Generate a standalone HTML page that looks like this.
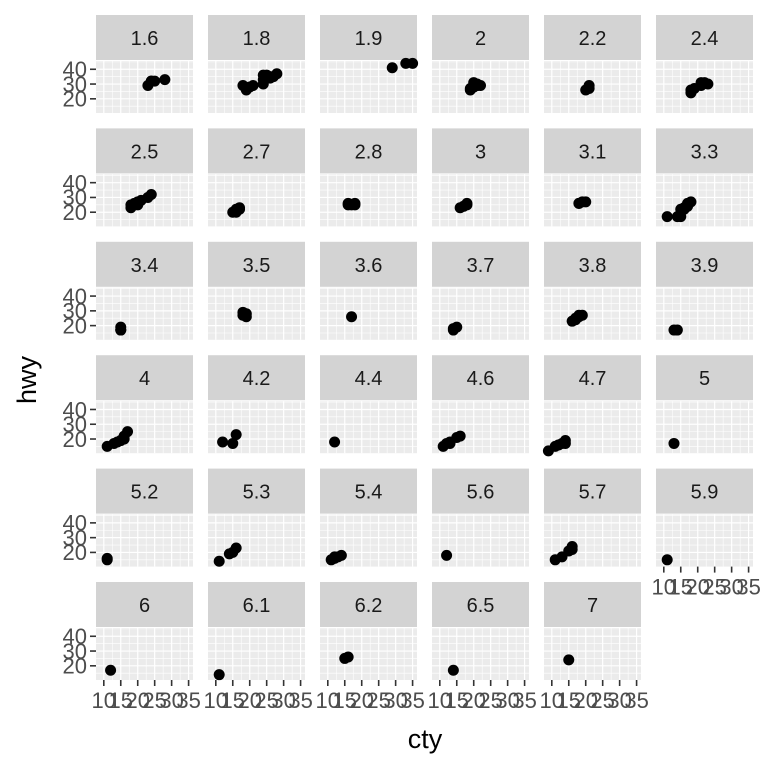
<!DOCTYPE html>
<html><head><meta charset="utf-8"><style>
html,body{margin:0;padding:0;background:#fff}
svg{display:block}
text{font-family:"Liberation Sans",Arial,sans-serif}
</style></head><body>
<svg id="chart" width="768" height="768"></svg>
<script>
const facets=["1.6","1.8","1.9","2","2.2","2.4","2.5","2.7","2.8","3","3.1","3.3","3.4","3.5","3.6","3.7","3.8","3.9","4","4.2","4.4","4.6","4.7","5","5.2","5.3","5.4","5.6","5.7","5.9","6","6.1","6.2","6.5","7"];
const ctyValues=[
[28,24,25,23,24],
[18,21,20,19,24,24,26,25,24,26,28,27],
[33,35,29],
[20,21,19,21,20,19,22,21,20],
[21,21,20],
[21,21,22,21,19,18,18,23],
[18,20,21,23,24,18,20,19],
[15,16,17,17,16],
[16,18,17,16,18],
[18,17,16,18],
[18,19,18,20],
[11,14,15,16,17,17,18,16,15],
[15,15,15],
[18,19,18,19],
[17],
[14,15,14],
[18,17,16,18,17,19],
[14,13],
[11,13,14,15,16,15,16,17],
[12,15,16],
[12],
[11,12,13,13,15,16],
[9,11,12,13,14,14],
[13],
[11,11],
[11,14,16,15],
[11,12,13,14,12],
[12],
[11,13,15,16,16],
[11],
[12],
[11],
[15,16],
[14],
[15]];
const hwyValues=[
[33,32,32,29,32],
[29,29,28,26,30,33,35,36,36,34,37,35],
[44,44,41],
[31,30,27,29,28,26,29,29,28],
[29,27,26],
[29,31,31,30,27,24,26,30],
[25,27,28,30,32,23,25,26],
[20,20,22,23,22],
[26,26,25,25,25],
[26,24,23,25],
[26,27,26,27],
[17,17,17,23,24,26,27,22,22],
[17,19,17],
[29,26,27,28],
[26],
[18,19,17],
[26,25,23,27,24,27],
[17,17],
[15,17,18,19,20,19,22,25],
[18,17,23],
[18],
[15,17,17,18,21,22],
[12,15,16,17,17,19],
[17],
[15,16],
[14,19,23,20],
[15,16,17,18,17],
[18],
[15,17,21,24,22],
[15],
[17],
[14],
[25,26],
[17],
[24]];
const xTicks=[10,15,20,25,30,35];
const yTicks=[20,30,40];
const xMin=7.7,xMax=36.3,yMin=10.4,yMax=45.6;
const NS="http://www.w3.org/2000/svg";
const svg=document.getElementById('chart');
const PW=97,PH=52,SH=45,COLP=112,ROWP=113.4,X0=96,Y0=15;
function mk(t,a,p){const e=document.createElementNS(NS,t);for(const k in a)e.setAttribute(k,a[k]);(p||svg).appendChild(e);return e;}
facets.forEach((lab,i)=>{
  const c=i%6,r=Math.floor(i/6);
  const px=X0+c*COLP, sy=Y0+r*ROWP, py=sy+SH+1;
  const sx=v=>px+(v-xMin)/(xMax-xMin)*PW;
  const syv=v=>py+PH-(v-yMin)/(yMax-yMin)*PH;
  const g=mk('g',{});
  
  
  const strip=mk('rect',{x:px,y:sy,width:PW,height:SH,fill:'#D3D3D3'},g);
  
  
  const st=mk('text',{x:px+PW/2,y:sy+30,'text-anchor':'middle','font-size':20,fill:'#1A1A1A'},g);
  st.textContent=lab;
  
  
  const bg=mk('rect',{x:px,y:py,width:PW,height:PH,fill:'#EBEBEB'},g);
  
  
  for(let v=12.5;v<=36;v+=5){const x=sx(v);mk('line',{x1:x,x2:x,y1:py,y2:py+PH,stroke:'#fff','stroke-width':0.6},g);}
  [15,25,35,45].forEach(v=>{const y=syv(v);mk('line',{x1:px,x2:px+PW,y1:y,y2:y,stroke:'#fff','stroke-width':0.6},g);});
  xTicks.forEach(v=>{const x=sx(v);mk('line',{x1:x,x2:x,y1:py,y2:py+PH,stroke:'#fff','stroke-width':1.2},g);});
  yTicks.forEach(v=>{const y=syv(v);mk('line',{x1:px,x2:px+PW,y1:y,y2:y,stroke:'#fff','stroke-width':1.2},g);});
  ctyValues[i].forEach((cv,j)=>{
    const p=mk('circle',{cx:sx(cv),cy:syv(hwyValues[i][j]),r:5.5,fill:'#000'},g);
    
    
  });
  if(c===0){
    yTicks.forEach(v=>{const y=syv(v);
      mk('line',{x1:px-6,x2:px,y1:y,y2:y,stroke:'#333','stroke-width':1.6});
      const t=mk('text',{x:px-9,y:y+7.8,'text-anchor':'end','font-size':22,fill:'#4D4D4D'});
      t.textContent=v;
      
      
    });
  }
  if(r===5 || i+6>=facets.length){
    xTicks.forEach(v=>{const x=sx(v);
      mk('line',{x1:x,x2:x,y1:py+PH,y2:py+PH+6,stroke:'#333','stroke-width':1.6});
      const t=mk('text',{x:x,y:py+PH+28,'text-anchor':'middle','font-size':22,fill:'#4D4D4D'});
      t.textContent=v;
      
      
    });
  }
});
const xt=mk('text',{x:425,y:748,'text-anchor':'middle','font-size':27,fill:'#000'});
xt.textContent='cty';


const yt=mk('text',{x:0,y:0,'text-anchor':'middle','font-size':27,fill:'#000',transform:'translate(36,380) rotate(-90)'});
yt.textContent='hwy';


</script>
</body></html>
